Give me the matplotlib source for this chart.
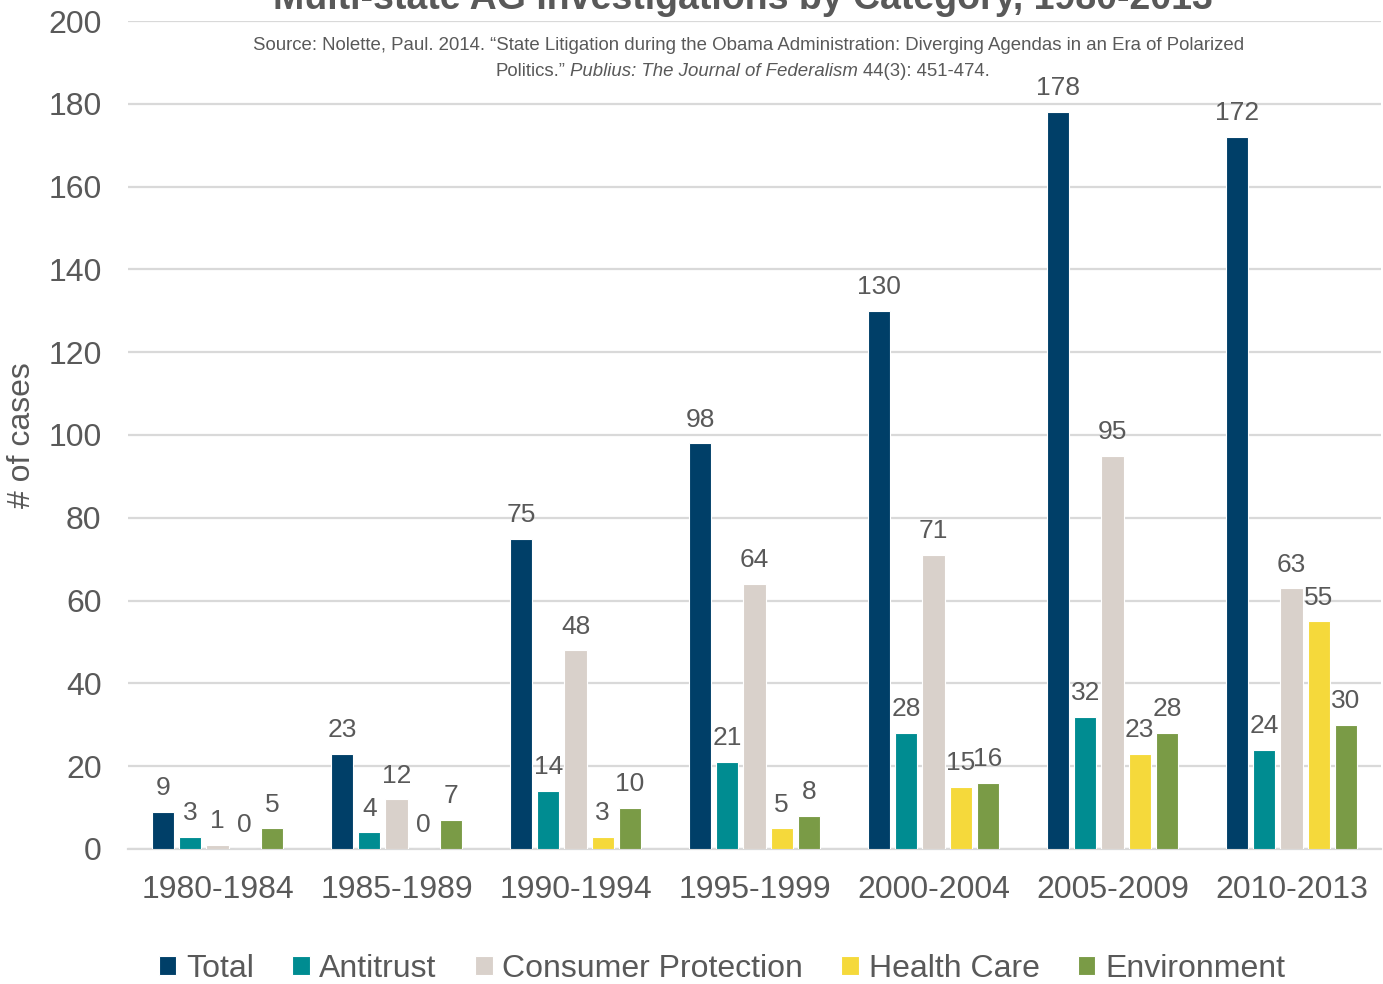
import matplotlib.pyplot as plt
import numpy as np
from matplotlib.offsetbox import TextArea, HPacker, AnchoredOffsetbox

# Multi-state AG investigations, counts per five-year period
periods = ['1980-1984', '1985-1989', '1990-1994', '1995-1999',
           '2000-2004', '2005-2009', '2010-2013']
categories = ['Total', 'Antitrust', 'Consumer Protection', 'Health Care', 'Environment']
total = [9, 23, 75, 98, 130, 178, 172]
antitrust = [3, 4, 14, 21, 28, 32, 24]
consumer = [1, 12, 48, 64, 71, 95, 63]
health_care = [0, 0, 3, 5, 15, 23, 55]
environment = [5, 7, 10, 8, 16, 28, 30]

series = [total, antitrust, consumer, health_care, environment]
colors = ['#003F68', '#008C91', '#D9D1CB', '#F5D93B', '#7A9B46']
text_gray = '#595959'

plt.rcParams['font.family'] = ['Liberation Sans', 'DejaVu Sans']

fig = plt.figure(figsize=(13.83, 9.84), dpi=100)
ax = fig.add_axes([128 / 1383, 1 - 849 / 984, 1253 / 1383, (849 - 21) / 984])

x = np.arange(len(periods))
pitch = 0.152
width = 0.124
for i, (vals, name, col) in enumerate(zip(series, categories, colors)):
    pos = x + (i - 2) * pitch
    bars = ax.bar(pos, vals, width=width, color=col, edgecolor='white',
                  linewidth=0.8, label=name, zorder=3)
    for b, v in zip(bars, vals):
        ax.annotate(str(v), (b.get_x() + b.get_width() / 2, v),
                    xytext=(0, 17), textcoords='offset points',
                    ha='center', va='center', fontsize=19, color=text_gray)

ax.set_xlim(-0.5, 6.5)
ax.set_ylim(0, 200)
ax.set_yticks(np.arange(0, 201, 20))
ax.set_xticks(x)
ax.set_xticklabels(periods)
ax.tick_params(axis='both', length=0, labelsize=23, colors=text_gray)
ax.tick_params(axis='x', pad=19)
ax.tick_params(axis='y', pad=19)
ax.grid(axis='y', color='#D9D9D9', linewidth=1.6, zorder=0)
for side in ['top', 'right', 'left']:
    ax.spines[side].set_visible(False)
ax.spines['bottom'].set_color('#D9D9D9')
ax.spines['bottom'].set_linewidth(1.6)
ax.set_ylabel('# of cases', fontsize=23, color=text_gray)
ax.yaxis.set_label_coords(-(128 - 37) / 1253, (849 - 435) / 828)

# title sits partly above the canvas
fig.text(0.537, 1 - 9 / 984, 'Multi-state AG Investigations by Category, 1980-2013',
         ha='center', va='baseline', fontsize=27, fontweight='bold', color=text_gray)

src_size = 13.4
fig.text(0.541, 1 - 45 / 984,
         'Source: Nolette, Paul. 2014. \u201cState Litigation during the Obama Administration: '
         'Diverging Agendas in an Era of Polarized',
         ha='center', va='center', fontsize=src_size, color=text_gray)
props = dict(fontsize=src_size, color=text_gray)
line2 = HPacker(children=[
    TextArea('Politics.\u201d', textprops=props),
    TextArea('Publius: The Journal of Federalism', textprops=dict(props, style='italic')),
    TextArea('44(3): 451-474.', textprops=props),
], align='baseline', pad=0, sep=3.7)
fig.add_artist(AnchoredOffsetbox(loc='center', child=line2, pad=0, borderpad=0,
                                 frameon=False, bbox_to_anchor=(0.537, 1 - 71 / 984),
                                 bbox_transform=fig.transFigure))

fig.legend(loc='center', bbox_to_anchor=(0.522, 1 - 969 / 984), ncol=5, frameon=False,
           fontsize=23, labelcolor=text_gray, handlelength=0.55, handleheight=0.55,
           handletextpad=0.3, columnspacing=1.2)

fig.savefig('out.png', dpi=100)
